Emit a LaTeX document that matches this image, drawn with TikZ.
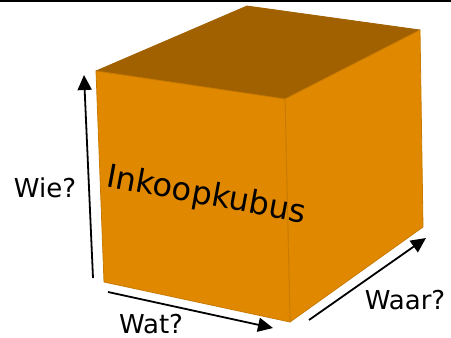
\documentclass[tikz,border=0pt]{standalone}
\usepackage{fontspec}
\setmainfont{DejaVu Sans}
\usetikzlibrary{arrows.meta}
\definecolor{frontc}{RGB}{224,137,0}
\definecolor{topc}{RGB}{161,97,0}
\definecolor{edgec}{RGB}{200,122,0}
\tikzset{
  face/.style={line width=0.8pt, draw=edgec, line join=round},
  axis/.style={line width=1.8pt, -{Triangle[length=15pt,width=14pt]}},
  lbl/.style={font=\fontsize{26}{30}\selectfont, inner sep=0pt, anchor=base},
}
\begin{document}
\begin{tikzpicture}[x=1pt,y=-1pt]
\useasboundingbox (0,0) rectangle (451,338);
\fill[white] (0,0) rectangle (451,338);
\draw[line width=2.2pt] (0,1) -- (451,1);
% cube corners
\coordinate (A) at (96,71);
\coordinate (B) at (285,99);
\coordinate (C) at (290,322);
\coordinate (D) at (104,282);
\coordinate (E) at (247,6);
\coordinate (F) at (420,30);
\coordinate (G) at (423,227);
\filldraw[face, fill=topc, draw=topc] (A) -- (E) -- (F) -- (B) -- cycle;
\filldraw[face, fill=frontc] (B) -- (F) -- (G) -- (C) -- cycle;
\filldraw[face, fill=frontc] (A) -- (B) -- (C) -- (D) -- cycle;
% axes
\coordinate (wie0) at (93,278);
\coordinate (wie1) at (84,75);
\coordinate (wat0) at (108,292);
\coordinate (wat1) at (273,328);
\coordinate (waar0) at (309,320);
\coordinate (waar1) at (426,238);
\draw[axis] (wie0) -- (wie1);
\draw[axis] (wat0) -- (wat1);
\draw[axis] (waar0) -- (waar1);
% labels
\node[lbl] (wie) at (45,197) {Wie?};
\node[lbl] (wat) at (151,333) {Wat?};
\node[lbl] (waar) at (405,309) {Waar?};
\node[font=\fontsize{32}{36}\selectfont, inner sep=0pt, rotate=-10.5] (kubus) at (206,196) {Inkoopkubus};
\end{tikzpicture}
\end{document}
